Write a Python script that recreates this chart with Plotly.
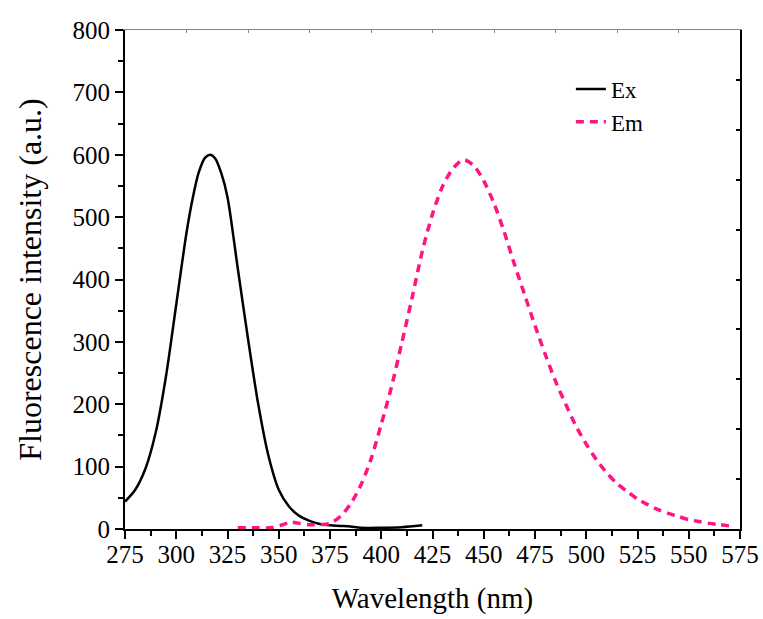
import plotly.graph_objects as go

ex_x = [275, 280, 285, 290, 295, 300, 305, 308, 311, 314, 316.5, 319, 322, 325, 330, 335, 340, 345, 350,
        355, 360, 365, 370, 375, 380, 385, 390, 400, 410, 420]
ex_y = [44, 63, 97, 155, 245, 360, 475, 530, 572, 595, 600, 594, 570, 532, 418, 305, 200, 117, 63,
        36, 21, 13, 8, 6, 5, 4, 2, 2, 3, 6]

em_x = [330, 340, 346, 351, 356, 360, 365, 370, 375, 380, 385, 390, 395, 400, 405, 410, 415, 420,
        425, 430, 435, 440, 445, 450, 455, 460, 465, 470, 475, 480, 485, 490, 495, 500, 505, 510,
        515, 520, 525, 530, 535, 540, 545, 550, 555, 560, 565, 572]
em_y = [2, 2, 2, 6, 11, 9, 7, 7, 9, 20, 40, 70, 112, 168, 228, 298, 370, 445,
        505, 550, 578, 592, 583, 558, 522, 476, 424, 375, 326, 280, 237, 200, 165, 136, 111, 90,
        73, 60, 48, 39, 31, 25, 20, 15, 12, 9, 7, 4]

x_ticks = [275, 300, 325, 350, 375, 400, 425, 450, 475, 500, 525, 550, 575]
y_ticks = [0, 100, 200, 300, 400, 500, 600, 700, 800]

FONT = "Liberation Serif"

fig = go.Figure()
fig.add_trace(go.Scatter(x=ex_x, y=ex_y, mode="lines", name="Ex",
                         line=dict(color="black", width=2.5, shape="spline", smoothing=0.8)))
fig.add_trace(go.Scatter(x=em_x, y=em_y, mode="lines", name="Em",
                         line=dict(color="#FF1480", width=3.5, dash="8px,6px", shape="spline", smoothing=0.8)))

fig.update_layout(
    width=763, height=619,
    margin=dict(l=125, r=23, t=30, b=90),
    paper_bgcolor="white", plot_bgcolor="white",
    font=dict(family=FONT, size=25, color="black"),
    showlegend=True,
    legend=dict(x=0.725, y=0.925, xanchor="left", yanchor="top", bgcolor="rgba(0,0,0,0)",
                font=dict(family=FONT, size=23), tracegroupgap=0),
    xaxis=dict(
        range=[275, 575], tickmode="array", tickvals=x_ticks, ticktext=[str(v) for v in x_ticks],
        ticks="outside", ticklen=8, tickwidth=2, tickcolor="black", automargin=False,
        ticklabelstandoff=-6,
        showline=True, linewidth=2, linecolor="black", showgrid=False, zeroline=False,
        minor=dict(dtick=12.5, tick0=275, ticks="outside", ticklen=5, tickwidth=2, tickcolor="black"),
        title=dict(text="Wavelength (nm)", font=dict(family=FONT, size=29), standoff=21),
        tickfont=dict(family=FONT, size=25),
    ),
    yaxis=dict(
        range=[0, 800], tickmode="array", tickvals=y_ticks, ticktext=[str(v) for v in y_ticks],
        ticks="outside", ticklen=8, tickwidth=2, tickcolor="black", automargin=False,
        showline=True, linewidth=2, linecolor="black", showgrid=False, zeroline=False,
        minor=dict(dtick=50, tick0=0, ticks="outside", ticklen=5, tickwidth=2, tickcolor="black"),
        title=dict(text="Fluorescence intensity (a.u.)", font=dict(family=FONT, size=32), standoff=21),
        tickfont=dict(family=FONT, size=25),
    ),
    xaxis2=dict(overlaying="x", side="top", range=[275, 575], tick0=275, dtick=30,
                ticks="inside", ticklen=3, tickwidth=1, tickcolor="#888", automargin=False,
                showline=True, linewidth=1, linecolor="#888", showticklabels=False,
                showgrid=False, zeroline=False),
    yaxis2=dict(overlaying="y", side="right", range=[0, 800], tick0=0, dtick=80,
                ticks="inside", ticklen=4, tickwidth=2, tickcolor="black", automargin=False,
                showline=True, linewidth=2, linecolor="black", showticklabels=False,
                showgrid=False, zeroline=False),
)

fig.add_trace(go.Scatter(x=[275], y=[0], xaxis="x2", yaxis="y2", mode="markers",
                         marker=dict(opacity=0), showlegend=False, hoverinfo="skip"))

fig.write_html("out.html", config={"displayModeBar": False},
               post_script="document.body.style.margin='0';document.body.style.overflow='hidden';")
